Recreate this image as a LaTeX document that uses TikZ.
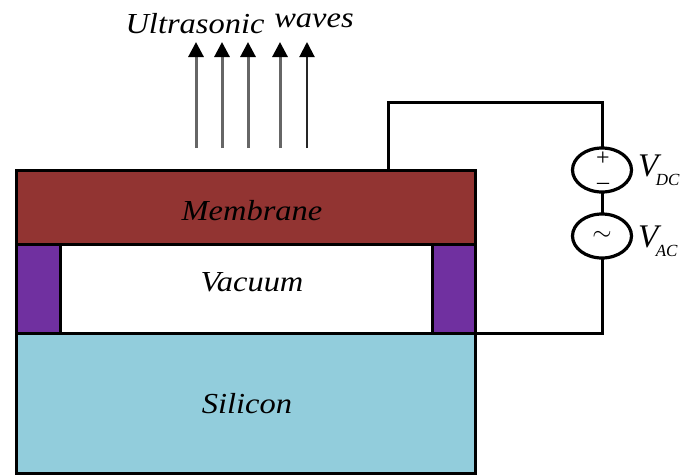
\documentclass[tikz,border=0pt]{standalone}
\usepackage{fontspec}
\setmainfont{Liberation Serif}
\newfontfamily\labfont[FakeStretch=1.12]{Liberation Serif}
\usetikzlibrary{shapes.geometric,arrows.meta}
\definecolor{memb}{RGB}{146,52,50}
\definecolor{purp}{RGB}{112,48,160}
\definecolor{sili}{RGB}{146,205,220}
\newcommand{\vsubs}[1]{V\kern-2.5pt\raisebox{-9pt}{\fontsize{17}{19}\selectfont #1}}
\tikzset{
 layer/.style={draw=black,line width=3pt,inner sep=0pt,outer sep=0pt,anchor=north west},
 wire/.style={draw=black,line width=3pt},
 src/.style={ellipse,draw=black,line width=3.2pt,fill=white,minimum width=59pt,minimum height=44pt,inner sep=0pt,outer sep=0pt},
 lab/.style={font=\labfont\fontsize{29}{32}\selectfont\itshape,inner sep=0pt},
 wave/.style={draw=black!60,line width=3pt,-{Triangle[length=15pt,width=15pt,color=black]}},
 sym/.style={font=\fontsize{24}{24}\selectfont,inner sep=0pt,align=center},
 vlab/.style={font=\fontsize{33}{35}\selectfont\itshape,inner sep=0pt,anchor=base west}
}
\begin{document}
\begin{tikzpicture}[x=1pt,y=-1pt]
\useasboundingbox (0,0) rectangle (681,475);
\node[layer,fill=white,minimum width=459pt,minimum height=89pt] (vac) at (16,244) {};
\node[layer,fill=sili,minimum width=459pt,minimum height=140pt] (si) at (16,333) {};
\node[layer,fill=purp,minimum width=44pt,minimum height=89pt] (pl) at (16,244) {};
\node[layer,fill=purp,minimum width=43pt,minimum height=89pt] (pr) at (432,244) {};
\node[layer,fill=memb,minimum width=459pt,minimum height=74pt] (mem) at (16,170) {};
\node[lab] (tm) at (252,211) {Membrane};
\node[lab] (tv) at (252,282) {Vacuum};
\node[lab] (ts) at (247,404) {Silicon};
\node[src] (dc) at (602,170) {};
\node[src] (ac) at (602,236) {};
\node[sym] (pm) at (603,171) {+\\–};
\node[sym] (tl) at (602,236) {$\sim$};
\node[vlab] (vd) at (638,176) {\vsubs{DC}};
\node[vlab] (va) at (638,247) {\vsubs{AC}};
\coordinate (t1) at (388,170);
\coordinate (t2) at (388,102);
\coordinate (t3) at (602,102);
\coordinate (b1) at (602,333);
\coordinate (b2) at (475,333);
\draw[wire,line join=miter] (t1) -- (t2) -- (t3) -- (dc.north);
\draw[wire] (dc.south) -- (ac.north);
\draw[wire,line join=miter] (ac.south) -- (b1) -- (b2);
\foreach \n/\x in {1/196,2/222,3/248,4/280}{
 \coordinate (a\n) at (\x,148);
 \coordinate (h\n) at (\x,42);
 \draw[wave] (a\n) -- (h\n);
}
\coordinate (a5) at (307,148);
\coordinate (h5) at (307,42);
\draw[wave,draw=black!85,line width=2pt] (a5) -- (h5);
\node[lab] (tu) at (195,24) {Ultrasonic};
\node[lab] (tw) at (314,21) {waves};
\end{tikzpicture}
\end{document}
